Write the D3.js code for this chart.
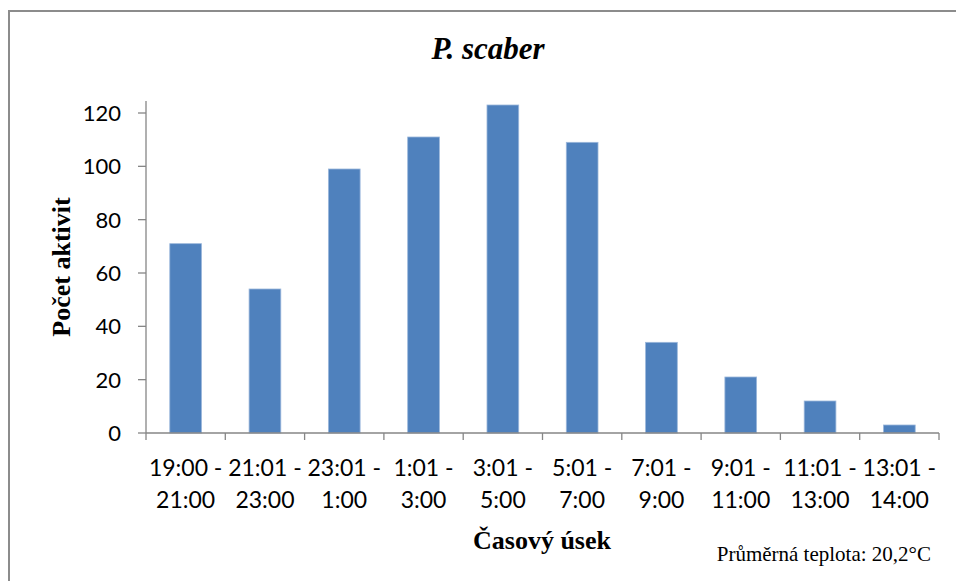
<!DOCTYPE html>
<html>
<head>
<meta charset="utf-8">
<script src="https://cdn.jsdelivr.net/npm/d3@7"></script>
<style>
  body { margin: 0; background: #fff; }
  svg { display: block; }
</style>
</head>
<body>
<div id="chart"></div>
<script>
// data
const categories = [
  ["19:00 -", "21:00"], ["21:01 -", "23:00"], ["23:01 -", "1:00"], ["1:01 -", "3:00"],
  ["3:01 -", "5:00"], ["5:01 -", "7:00"], ["7:01 -", "9:00"], ["9:01 -", "11:00"],
  ["11:01 -", "13:00"], ["13:01 -", "14:00"]
];
const counts = [71, 54, 99, 111, 123, 109, 34, 21, 12, 3];
const yTicks = [0, 20, 40, 60, 80, 100, 120];

const W = 956, H = 581;
const margin = { top: 101, right: 17, bottom: 148, left: 146 };
const width = W - margin.left - margin.right,
  height = H - margin.top - margin.bottom;

const svg = d3.select("#chart").append("svg")
  .attr("width", W).attr("height", H);

// outer chart border (only left and top visible in the crop)
svg.append("path")
  .attr("d", "M9,600 L9,11 L970,11")
  .attr("fill", "none").attr("stroke", "#8c8c8c").attr("stroke-width", 2);

const g = svg.append("g").attr("transform", `translate(${margin.left},${margin.top})`);

const x = d3.scaleBand().domain(d3.range(categories.length)).range([0, width])
  .paddingInner(0.6).paddingOuter(0.3);
const y = d3.scaleLinear().domain([0, 120 * 332 / 320]).range([height, 0]);

// bars
g.selectAll("rect.bar").data(counts).join("rect")
  .attr("class", "bar")
  .attr("x", (d, i) => x(i))
  .attr("y", d => y(d))
  .attr("width", x.bandwidth())
  .attr("height", d => height - y(d))
  .attr("fill", "#4f81bd")
  .attr("stroke", "#9bb7db").attr("stroke-width", 0.8);

// y axis
g.append("line").attr("x1", 0).attr("x2", 0).attr("y1", 0).attr("y2", height)
  .attr("stroke", "#868686").attr("stroke-width", 1.3);
g.selectAll("line.ytick").data(yTicks).join("line")
  .attr("class", "ytick")
  .attr("x1", -8).attr("x2", 0)
  .attr("y1", d => y(d)).attr("y2", d => y(d))
  .attr("stroke", "#868686").attr("stroke-width", 1.3);
g.selectAll("text.ytick").data(yTicks).join("text")
  .attr("class", "ytick")
  .attr("x", -25).attr("y", d => y(d))
  .attr("dy", "0.36em")
  .attr("text-anchor", "end")
  .style("font-family", "Lato, 'Open Sans', sans-serif")
  .style("font-size", "22px")
  .attr("fill", "#000")
  .text(d => d);

// x axis
g.append("line").attr("x1", 0).attr("x2", width).attr("y1", height).attr("y2", height)
  .attr("stroke", "#868686").attr("stroke-width", 1.3);
g.selectAll("line.xtick").data(d3.range(categories.length + 1)).join("line")
  .attr("class", "xtick")
  .attr("x1", i => i * x.step()).attr("x2", i => i * x.step())
  .attr("y1", height).attr("y2", height + 7)
  .attr("stroke", "#868686").attr("stroke-width", 1.3);
const xl = g.selectAll("text.xtick").data(categories).join("text")
  .attr("class", "xtick")
  .attr("text-anchor", "middle")
  .style("font-family", "Lato, 'Open Sans', sans-serif")
  .style("font-size", "23px")
  .attr("fill", "#000");
xl.append("tspan").attr("x", (d, i) => x(i) + x.bandwidth() / 2).attr("y", height + 43).text(d => d[0]);
xl.append("tspan").attr("x", (d, i) => x(i) + x.bandwidth() / 2).attr("y", height + 75).text(d => d[1]);

// titles
svg.append("text")
  .attr("x", 488).attr("y", 59)
  .attr("text-anchor", "middle")
  .style("font-family", "'Liberation Serif', 'Times New Roman', serif")
  .style("font-size", "31px").style("font-weight", "bold").style("font-style", "italic")
  .text("P. scaber");

svg.append("text")
  .attr("transform", `translate(70,${margin.top + height / 2}) rotate(-90)`)
  .attr("text-anchor", "middle")
  .style("font-family", "'Liberation Serif', 'Times New Roman', serif")
  .style("font-size", "26px").style("font-weight", "bold")
  .text("Počet aktivit");

svg.append("text")
  .attr("x", 542).attr("y", 549)
  .attr("text-anchor", "middle")
  .style("font-family", "'Liberation Serif', 'Times New Roman', serif")
  .style("font-size", "26px").style("font-weight", "bold")
  .text("Časový úsek");

svg.append("text")
  .attr("x", 931).attr("y", 561)
  .attr("text-anchor", "end")
  .style("font-family", "'Liberation Serif', 'Times New Roman', serif")
  .style("font-size", "21px")
  .text("Průměrná teplota: 20,2°C");
</script>
</body>
</html>
